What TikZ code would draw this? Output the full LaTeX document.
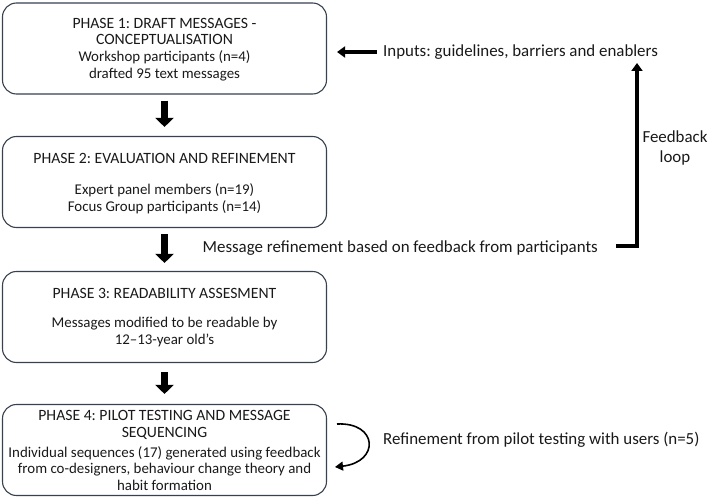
\documentclass[tikz,border=0pt]{standalone}
\usepackage{fontspec}
\setmainfont{Carlito}
\usetikzlibrary{arrows.meta}
\definecolor{boxline}{RGB}{55,65,80}
\frenchspacing
\begin{document}
\begin{tikzpicture}[x=1pt,y=-1pt,
  phasebox/.style={draw=boxline,line width=1.1pt,rounded corners=14pt,minimum width=324pt,minimum height=91pt,inner sep=0pt},
  txt/.style={font=\fontsize{14.9}{17.2}\selectfont,align=center,inner sep=0pt,text=black!90},
  ttl/.style={font=\fontsize{15.7}{16.8}\selectfont,align=center,inner sep=0pt,text=black!90},
  sidetxt/.style={font=\fontsize{16.9}{19.5}\selectfont,align=center,inner sep=0pt,text=black!90},
  bigarrow/.style={line width=7.5pt,-{Triangle[width=18pt,length=9pt]}},
  midarrow/.style={line width=4pt,-{Triangle[width=11pt,length=8pt]}},
  thinarrow/.style={line width=1.6pt,-{Triangle[width=9pt,length=8pt]}}]
\useasboundingbox (0,0) rectangle (709,497);
% boxes
\node[phasebox] (b1) at (164.5,48.5) {};
\node[phasebox] (b2) at (164.5,182) {};
\node[phasebox] (b3) at (164.5,317) {};
\node[phasebox] (b4) at (164.5,450) {};
% box texts
\node[ttl] (t1a) at (164.5,31.5) {PHASE 1: DRAFT MESSAGES -\\CONCEPTUALISATION};
\node[txt] (t1b) at (164.5,66) {Workshop participants (n=4)\\drafted 95 text messages};
\node[ttl] (t2a) at (164.5,158.5) {PHASE 2: EVALUATION AND REFINEMENT};
\node[txt] (t2b) at (164.5,199) {Expert panel members (n=19)\\Focus Group participants (n=14)};
\node[ttl] (t3a) at (164.5,293) {PHASE 3: READABILITY ASSESMENT};
\node[txt] (t3b) at (164.5,332) {Messages modified to be readable by\\12--13-year old's};
\node[ttl] (t4a) at (164.5,425) {PHASE 4: PILOT TESTING AND MESSAGE\\SEQUENCING};
\node[txt,font=\fontsize{14.9}{16.6}\selectfont] (t4b) at (164.5,468.5) {Individual sequences (17) generated using feedback\\from co-designers, behaviour change theory and\\habit formation};
% side texts
\node[sidetxt,anchor=west] (inp) at (383,52) {Inputs: guidelines, barriers and enablers};
\node[sidetxt,anchor=east] (msg) at (598,248) {Message refinement based on feedback from participants};
\node[sidetxt] (fb) at (675,148) {Feedback\\loop};
\node[sidetxt,anchor=west] (ref) at (383,440) {Refinement from pilot testing with users (n=5)};
\coordinate (fbtop) at (637,63);
\coordinate (cs) at (337,424);
\coordinate (ce) at (335,467);
% arrows
\draw[bigarrow,shorten <=6pt,shorten >=9pt] (b1.south) -- (b2.north);
\draw[bigarrow,shorten <=6pt,shorten >=8pt] (b2.south) -- (b3.north);
\draw[bigarrow,shorten <=9pt,shorten >=10pt] (b3.south) -- (b4.north);
\draw[midarrow,shorten <=6pt,shorten >=10pt] (inp.west) -- (b1.east |- inp.west);
\draw[midarrow] ([xshift=18pt,yshift=2pt]msg.east) -| (fbtop);
\draw[thinarrow] (cs) .. controls (378,422) and (380,462) .. (ce);
\end{tikzpicture}
\end{document}
